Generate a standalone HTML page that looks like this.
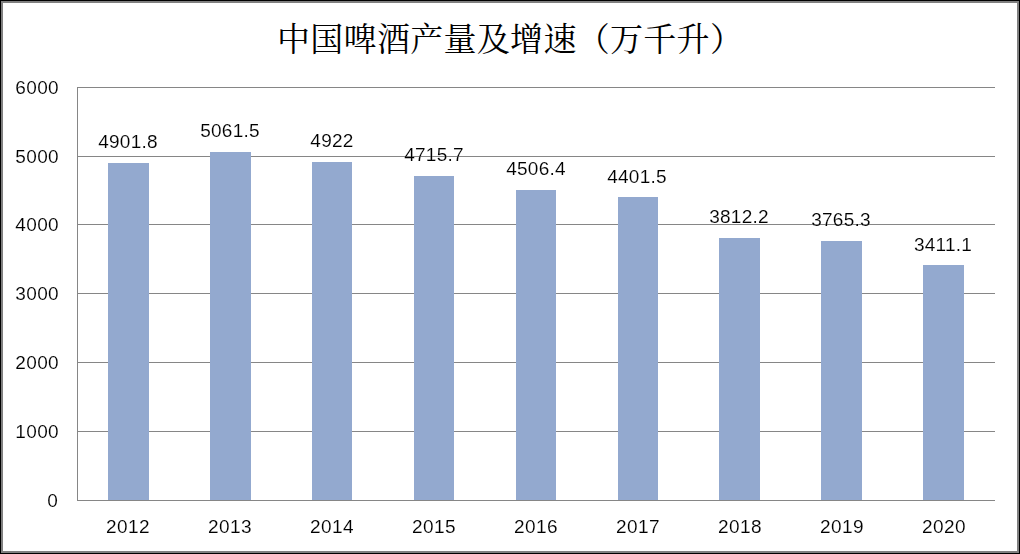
<!DOCTYPE html>
<html lang="zh"><head><meta charset="utf-8"><title>中国啤酒产量及增速（万千升）</title>
<style>
html,body{margin:0;padding:0;background:#fff;}
body{width:1020px;height:554px;position:relative;overflow:hidden;font-family:"Liberation Sans",sans-serif;color:#000;}
#frame{position:absolute;left:0;top:0;width:1020px;height:554px;box-sizing:border-box;border:1px solid #000;}
#frame:after{content:"";position:absolute;left:0;top:0;right:0;bottom:0;border:2px solid #808080;}
.g{position:absolute;left:77px;width:918px;height:1px;background:#868686;}
#ax{position:absolute;left:77px;top:87px;width:1px;height:414px;background:#868686;}
.b{position:absolute;width:41px;background:#93a9cf;}
.t{position:absolute;font-size:19px;line-height:19px;height:19px;white-space:nowrap;letter-spacing:0.4px;-webkit-text-stroke:0.12px #fff;will-change:transform;}
.yl{text-align:right;left:0;width:59.1px;}
.c{text-align:center;width:102px;}
.d{letter-spacing:0.25px;}
h1{position:absolute;left:277px;top:22px;margin:0;font-size:33px;line-height:36px;font-weight:normal;color:#000;white-space:nowrap;width:467px;height:36px;overflow:hidden;font-family:"Liberation Serif","Noto Serif CJK SC",serif;letter-spacing:0.3px;}
</style></head>
<body>
<div id="frame"></div>
<h1>中国啤酒产量及增速（万千升）</h1>
<div class="g" style="top:87px"></div>
<div class="g" style="top:156px"></div>
<div class="g" style="top:224px"></div>
<div class="g" style="top:293px"></div>
<div class="g" style="top:362px"></div>
<div class="g" style="top:431px"></div>
<div class="g" style="top:500px"></div>
<div id="ax"></div>
<div class="t yl" style="top:78px">6000</div>
<div class="t yl" style="top:147px">5000</div>
<div class="t yl" style="top:215px">4000</div>
<div class="t yl" style="top:284px">3000</div>
<div class="t yl" style="top:353px">2000</div>
<div class="t yl" style="top:422px">1000</div>
<div class="t yl" style="top:491px;width:58.1px">0</div>
<div class="b" style="left:108px;top:163px;width:41px;height:337px"></div>
<div class="t c d" style="left:77.025px;top:132px">4901.8</div>
<div class="t c" style="left:77.1px;top:517px">2012</div>
<div class="b" style="left:210px;top:152px;width:41px;height:348px"></div>
<div class="t c d" style="left:178.905px;top:121px">5061.5</div>
<div class="t c" style="left:179.08px;top:517px">2013</div>
<div class="b" style="left:312px;top:162px;width:40px;height:338px"></div>
<div class="t c d" style="left:280.785px;top:131px">4922</div>
<div class="t c" style="left:281.06px;top:517px">2014</div>
<div class="b" style="left:414px;top:176px;width:40px;height:324px"></div>
<div class="t c d" style="left:382.665px;top:145px">4715.7</div>
<div class="t c" style="left:383.04px;top:517px">2015</div>
<div class="b" style="left:516px;top:190px;width:40px;height:310px"></div>
<div class="t c d" style="left:484.545px;top:159px">4506.4</div>
<div class="t c" style="left:485.02px;top:517px">2016</div>
<div class="b" style="left:618px;top:197px;width:40px;height:303px"></div>
<div class="t c d" style="left:586.425px;top:167px">4401.5</div>
<div class="t c" style="left:587px;top:517px">2017</div>
<div class="b" style="left:719px;top:238px;width:41px;height:262px"></div>
<div class="t c d" style="left:688.305px;top:207px">3812.2</div>
<div class="t c" style="left:688.98px;top:517px">2018</div>
<div class="b" style="left:821px;top:241px;width:41px;height:259px"></div>
<div class="t c d" style="left:790.185px;top:210px">3765.3</div>
<div class="t c" style="left:790.96px;top:517px">2019</div>
<div class="b" style="left:923px;top:265px;width:41px;height:235px"></div>
<div class="t c d" style="left:892.065px;top:235px">3411.1</div>
<div class="t c" style="left:892.94px;top:517px">2020</div>
</body></html>
